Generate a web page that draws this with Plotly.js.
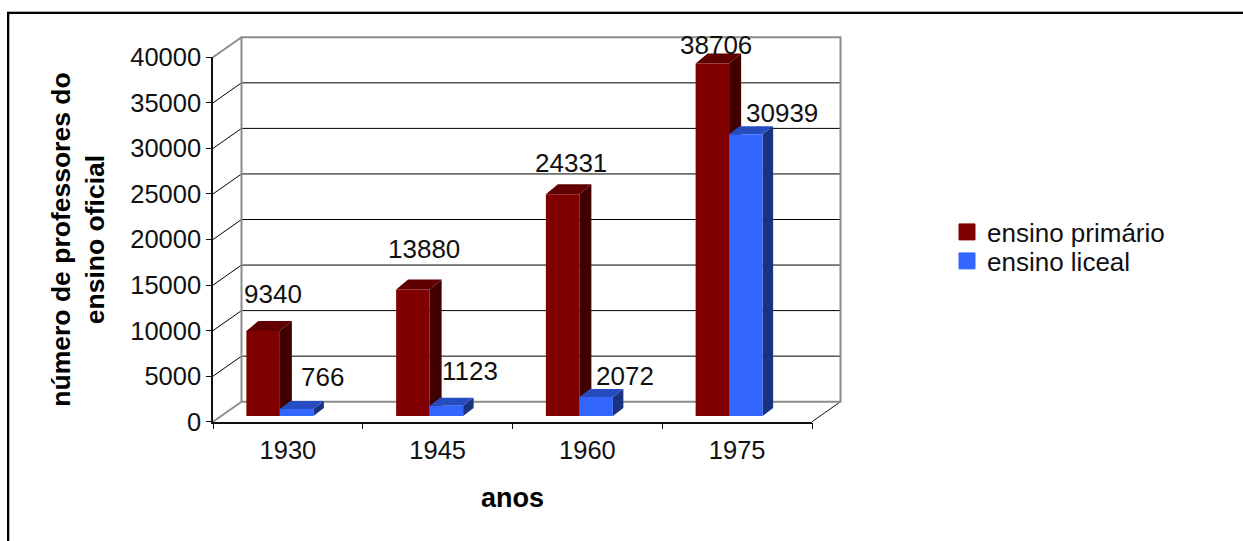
<!DOCTYPE html>
<html><head><meta charset="utf-8">
<script src="https://cdn.plot.ly/plotly-3.0.1.min.js"></script>
<style>html,body{margin:0;padding:0;background:#fff;overflow:hidden}#c{position:absolute;left:0;top:0;width:1243px;height:541px}</style>
</head><body><div id="c"></div>
<script>
const categories = ['1930','1945','1960','1975'];
const primario = [9340,13880,24331,38706];
const liceal = [766,1123,2072,30939];
const yTicks = [0,5000,10000,15000,20000,25000,30000,35000,40000];
const seriesNames = ['ensino primário','ensino liceal'];
const RED='#800000',RED_SIDE='#400000',RED_TOP='#600000';
const BLUE='#3366ff',BLUE_SIDE='#1a3380',BLUE_TOP='#264dbf';
const WALL='#8c8c8c';
const FONT='"Liberation Sans",Arial,sans-serif', INK='#111';

const W=1243,H=541;
const L=213,R=812,T=57.3,B=421.7;
const pxX=(R-L)/4, pxY=(B-T)/40000;
const ux=p=>p/pxX, uy=p=>p/pxY;
const fx=p=>p/W, fy=p=>1-p/H;
const xs=categories.map((_,i)=>i);
const barW=ux(33.5), groupShift=ux(-8);
const redDX=ux(12), redDY=uy(10), blueDX=ux(10.5), blueDY=uy(8), floor=uy(5.7);
const wallX=ux(28.5), wallY=uy(20);
const x0=-0.5,x1=3.5;
// the back-wall subplot shares the bar subplot's scale but reaches further
const boxL=204,boxR=848,boxT=28,boxB=430;

function poly(x,y,color,line){return {type:'scatter',mode:line?'lines':'none',x,y,xaxis:'x',yaxis:'y',
  fill:line?'none':'toself',fillcolor:color,line:{color:color,width:line||0},hoverinfo:'skip',showlegend:false};}

const traces=[];
yTicks.slice(1,-1).forEach(v=>{
  traces.push(poly([x0,x0+wallX,x1+wallX],[v,v+wallY,v+wallY],'#000',1));
});
traces.push(poly([x1,x1+wallX],[0,wallY],'#111',1));
traces.push(poly([x0,x0+wallX],[40000,40000+wallY],WALL,2));
traces.push(poly([x0,x0+wallX],[0,wallY],WALL,2));
traces.push(poly([x0+wallX,x0+wallX,x1+wallX,x1+wallX,x0+wallX],[wallY,40000+wallY,40000+wallY,wallY,wallY],WALL,2));

// depth faces (under the front faces, which sit on the subplot above)
xs.forEach(i=>{
  const xl=i+groupShift-barW,xm=i+groupShift,xr=xm+barW;
  const rt=primario[i]+floor, bt=liceal[i]+floor;
  traces.push(poly([xm,xm+redDX,xm+redDX,xm,xm],[floor,floor+redDY,rt+redDY,rt,floor],RED_SIDE));
  traces.push(poly([xl,xl+redDX,xm+redDX,xm,xl],[rt,rt+redDY,rt+redDY,rt,rt],RED_TOP));
  traces.push(poly([xr,xr+blueDX,xr+blueDX,xr,xr],[floor,floor+blueDY,bt+blueDY,bt,floor],BLUE_SIDE));
  traces.push(poly([xm,xm+blueDX,xr+blueDX,xr,xm],[bt,bt+blueDY,bt+blueDY,bt,bt],BLUE_TOP));
});

// front faces are true bars
traces.push({type:'bar',name:seriesNames[0],x:xs,y:primario,base:floor,width:barW,offset:groupShift-barW,xaxis:'x2',yaxis:'y2',
  marker:{color:RED,line:{width:0}},hoverinfo:'y',showlegend:false});
traces.push({type:'bar',name:seriesNames[1],x:xs,y:liceal,base:floor,width:barW,offset:groupShift,xaxis:'x2',yaxis:'y2',
  marker:{color:BLUE,line:{width:0}},hoverinfo:'y',showlegend:false});

// legend entries
function key(name,color,legend){return {type:'scatter',mode:'markers',name,x:[null],y:[null],xaxis:'x2',yaxis:'y2',legend,
  marker:{symbol:'square',size:16,color,line:{color,width:1}},showlegend:true,hoverinfo:'skip'};}
traces.push(key(seriesNames[0],RED,'legend'));
traces.push(key(seriesNames[1],BLUE,'legend2'));

// value labels, anchored to each bar's value and nudged in pixels
const redLabelPx=[[272.5,294.5],[423.5,249.5],[571,163],[716,44.5]];
const blueLabelPx=[[322.5,377.5],[469.5,370.5],[625,376.5],[782,112.5]];
const annotations=[];
xs.forEach(i=>{
  [[primario,redLabelPx],[liceal,blueLabelPx]].forEach(([vals,pos])=>{
    annotations.push({x:i,y:vals[i],xref:'x2',yref:'y2',text:String(vals[i]),showarrow:false,
      xshift:pos[i][0]-(L+(i+0.5)*pxX),yshift:(B-vals[i]*pxY)-pos[i][1],
      font:{family:FONT,size:26,color:INK}});
  });
});

const frame=[
  {x0:7,x1:W,y0:11.5,y1:11.5,c:'#b0b0b0',w:1},
  {x0:7,x1:W,y0:13,y1:13,c:'#000',w:2},
  {x0:8,x1:8,y0:12,y1:H,c:'#000',w:2},
  {x0:9.5,x1:9.5,y0:14,y1:H,c:'#b0b0b0',w:1}
].map(s=>({type:'line',xref:'paper',yref:'paper',x0:fx(s.x0),x1:fx(s.x1),y0:fy(s.y0),y1:fy(s.y1),line:{color:s.c,width:s.w}}));

const legendBase={xref:'container',yref:'container',xanchor:'left',yanchor:'top',
  font:{family:FONT,size:26,color:INK},bgcolor:'rgba(0,0,0,0)',borderwidth:0,itemwidth:30};

const layout={
  width:W,height:H,autosize:false,paper_bgcolor:'#fff',plot_bgcolor:'rgba(0,0,0,0)',
  margin:{l:0,r:0,t:0,b:0,pad:0,autoexpand:false},
  barmode:'overlay',
  font:{family:FONT,size:25,color:INK},
  xaxis:{domain:[fx(boxL),fx(boxR)],range:[x0+(boxL-L)/pxX,x0+(boxR-L)/pxX],visible:false,anchor:'y',fixedrange:true},
  yaxis:{domain:[fy(boxB),fy(boxT)],range:[(B-boxB)/pxY,(B-boxT)/pxY],visible:false,anchor:'x',fixedrange:true},
  xaxis2:{domain:[fx(L),fx(R)],anchor:'y2',range:[x0,x1],tickmode:'array',tickvals:xs,ticktext:categories,ticks:'',showgrid:false,zeroline:false,
    showline:true,linecolor:'#111',linewidth:1.5,tickfont:{family:FONT,size:25.5,color:INK},ticklabelstandoff:5,
    minor:{tick0:-0.5,dtick:1,ticks:'outside',ticklen:6,tickcolor:'#111',tickwidth:1,showgrid:false},
    title:{text:'<b>anos</b>',font:{family:FONT,size:27,color:'#000'},standoff:25}},
  yaxis2:{domain:[fy(B),fy(T)],anchor:'x2',range:[0,40000],tickmode:'array',tickvals:yTicks,ticktext:yTicks.map(String),ticks:'outside',ticklen:5,tickcolor:'#111',tickwidth:1,
    showgrid:false,zeroline:false,showline:true,linecolor:'#111',linewidth:1.5,tickfont:{family:FONT,size:25.5,color:INK},
    title:{text:'<b>número de professores do<br>ensino oficial</b>',font:{family:FONT,size:26.5,color:'#000'},standoff:18}},
  showlegend:true,
  legend:Object.assign({x:fx(947),y:fy(208.5)},legendBase),
  legend2:Object.assign({x:fx(947),y:fy(237.5)},legendBase),
  annotations,
  shapes:frame
};
Plotly.newPlot('c',traces,layout,{displayModeBar:false,responsive:false});
</script></body></html>
